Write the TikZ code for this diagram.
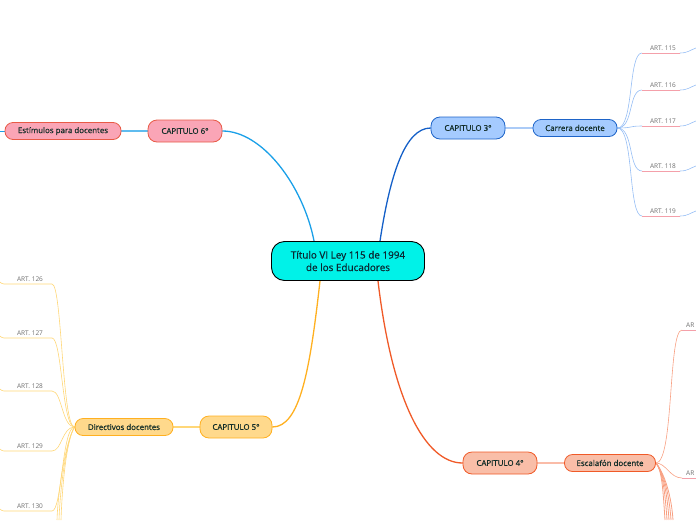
\documentclass[tikz,border=0pt]{standalone}
\usepackage{fontspec}
\setmainfont{Open Sans}
\newfontfamily\semib{Open Sans}[FakeBold=0.6]
\pgfdeclarelayer{bg}
\pgfsetlayers{bg,main}
\begin{document}
\begin{tikzpicture}[x=1pt,y=-1pt,
  central/.style={draw=black, line width=0.9pt, fill={rgb,255:red,0;green,242;blue,232}, rounded corners=13pt, minimum width=153pt, minimum height=39pt, inner sep=0pt, align=center, font=\semib\fontsize{9.9}{12.5}\selectfont, text={rgb,255:red,10;green,40;blue,50}},
  capbox/.style={line width=0.8pt, rounded corners=9pt, minimum height=22pt, inner sep=0pt, font=\semib\fontsize{7.9}{9}\selectfont, text={rgb,255:red,18;green,45;blue,40}},
  subbox/.style={line width=0.8pt, rounded corners=8pt, minimum height=17pt, inner sep=0pt, font=\semib\fontsize{7.9}{9}\selectfont, text={rgb,255:red,18;green,45;blue,40}},
  art/.style={inner sep=0pt, font=\fontsize{6.5}{7}\selectfont, text={rgb,255:red,110;green,110;blue,110}, anchor=south},
  pinkn/.style={draw={rgb,255:red,232;green,90;blue,70}, fill={rgb,255:red,250;green,165;blue,182}},
  bluen/.style={draw={rgb,255:red,30;green,100;blue,200}, fill={rgb,255:red,165;green,203;blue,255}},
  yelln/.style={draw={rgb,255:red,255;green,176;blue,32}, fill={rgb,255:red,255;green,217;blue,140}},
  salmn/.style={draw={rgb,255:red,240;green,90;blue,40}, fill={rgb,255:red,249;green,190;blue,168}},
  conn/.style={line width=1.3pt, line cap=round},
  thin/.style={line width=0.6pt},
]
\useasboundingbox (0,0) rectangle (696,520);
\definecolor{skyc}{RGB}{26,160,232}
\definecolor{darkb}{RGB}{21,96,200}
\definecolor{orc}{RGB}{255,176,32}
\definecolor{redc}{RGB}{240,90,40}
\definecolor{lblue}{RGB}{150,190,245}
\definecolor{lyel}{RGB}{255,215,120}
\definecolor{lsal}{RGB}{248,160,130}
\definecolor{pinku}{RGB}{244,160,170}

% nodes
\node[central] (c) at (348,261) {Título VI Ley 115 de 1994\\de los Educadores};
\node[capbox,pinkn,minimum width=74pt] (c6) at (185,131) {CAPITULO 6°};
\node[subbox,pinkn,minimum width=116pt] (e6) at (63,131) {Estímulos para docentes};
\node[capbox,bluen,minimum width=74pt] (c3) at (468,128) {CAPITULO 3°};
\node[subbox,bluen,minimum width=84pt] (e3) at (575,128) {Carrera docente};
\node[capbox,yelln,minimum width=72pt] (c5) at (236,427) {CAPITULO 5°};
\node[subbox,yelln,minimum width=98pt] (e5) at (124,427) {Directivos docentes};
\node[capbox,salmn,minimum width=74pt] (c4) at (500,463) {CAPITULO 4°};
\node[subbox,salmn,minimum width=91pt] (e4) at (610,463) {Escalafón docente};

\begin{pgfonlayer}{bg}
% main connectors
\draw[conn,skyc] (c.north west) ++(43,0) coordinate (a6) .. controls (303,185) and (262,131) .. (c6.east);
\draw[conn,darkb] (c.north) ++(32,0) coordinate (a3) .. controls (390,175) and (405,128) .. (c3.west);
\draw[conn,orc] (c.south) ++(-28,0) coordinate (a5) .. controls (310,370) and (300,427) .. (c5.east);
\draw[conn,redc] (c.south) ++(30,0) coordinate (a4) .. controls (392,400) and (425,463) .. (c4.west);

% chapter to sub
\draw[line width=1.2pt, skyc!70!white] (c6.west) -- (e6.east);
\draw[line width=2pt, lblue!80!white] (c3.east) -- (e3.west);
\draw[line width=1.6pt, lyel] (c5.west) -- (e5.east);
\draw[line width=2pt, lsal!70!white] (c4.west) -- (e4.east);
\coordinate (o6) at (0,131);
\draw[line width=1pt, skyc] (e6.west) -- (o6);

% Carrera docente articles
\foreach \n/\y in {a115/53, a116/90, a117/126, a118/171, a119/216}{
  \coordinate (\n s) at (642,\y);
  \coordinate (\n e) at (680,\y);
  \coordinate (\n o) at (696,\y-5);
  \draw[thin, lblue] (e3.east) .. controls (634,128) and (628,\y) .. (\n s);
  \draw[thin, pinku] (\n s) -- (\n e);
  \draw[thin, lblue] (\n e) .. controls (688,\y) and (690,\y-3) .. (\n o);
}

% Directivos docentes articles
\foreach \n/\y in {a126/284, a127/338, a128/391, a129/451, a130/511}{
  \coordinate (\n s) at (52,\y);
  \coordinate (\n e) at (4,\y);
  \coordinate (\n o) at (0,\y-2);
  \draw[thin, lyel] (e5.west) .. controls (62,427) and (62,\y) .. (\n s);
  \draw[thin, lyel] (\n s) -- (\n e) .. controls (2,\y) and (1,\y-1) .. (\n o);
}
\foreach \x in {57,59,61}{
  \coordinate (d\x) at (\x,520);
  \draw[thin, lyel] (e5.west) .. controls (66,440) and (\x+1,490) .. (d\x);
}

% Escalafón docente articles
\coordinate (b1s) at (682,330);
\coordinate (b1e) at (696,330);
\coordinate (b2s) at (682,478);
\coordinate (b2e) at (696,478);
\draw[thin, lsal] (e4.east) .. controls (674,463) and (668,330) .. (b1s);
\draw[thin, pinku] (b1s) -- (b1e);
\draw[thin, lsal] (e4.east) .. controls (666,463) and (670,478) .. (b2s);
\draw[thin, pinku] (b2s) -- (b2e);
\foreach \x in {665,667,669,671,673}{
  \coordinate (f\x) at (\x,520);
  \draw[line width=0.8pt, lsal] (e4.east) .. controls (662,470) and (\x-2,490) .. (f\x);
}
\end{pgfonlayer}

\node[art] (t115) at (663,51) {ART. 115};
\node[art] (t116) at (663,88) {ART. 116};
\node[art] (t117) at (663,124) {ART. 117};
\node[art] (t118) at (663,169) {ART. 118};
\node[art] (t119) at (663,214) {ART. 119};
\node[art] (t126) at (30,282) {ART. 126};
\node[art] (t127) at (30,336) {ART. 127};
\node[art] (t128) at (30,389) {ART. 128};
\node[art] (t129) at (30,449) {ART. 129};
\node[art] (t130) at (30,509) {ART. 130};
\node[art, anchor=south west] (t1) at (686,328) {AR};
\node[art, anchor=south west] (t2) at (686,476) {AR};
\end{tikzpicture}
\end{document}
